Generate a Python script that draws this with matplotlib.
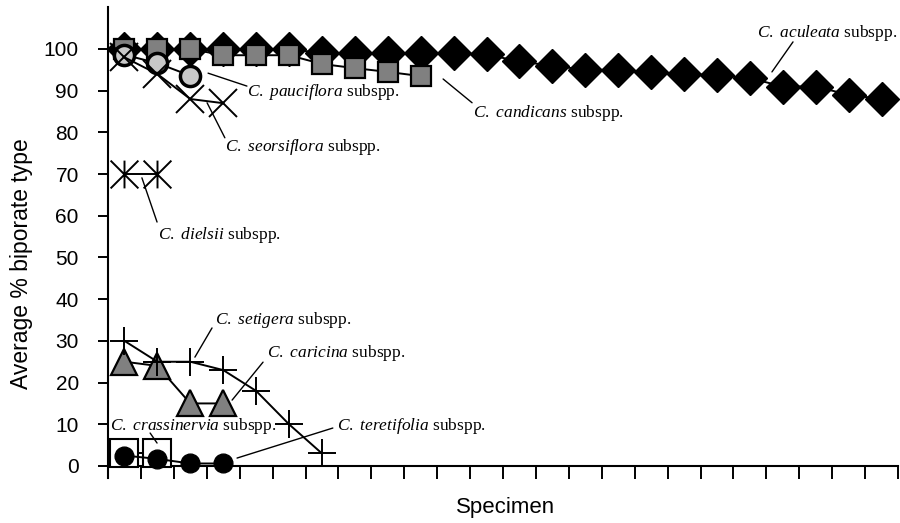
import matplotlib
matplotlib.use('Agg')
import numpy as np
import matplotlib.pyplot as plt
from matplotlib.path import Path

plt.rcParams['font.family'] = 'Liberation Sans'
plt.rcParams['mathtext.fontset'] = 'custom'
plt.rcParams['mathtext.it'] = 'Liberation Serif:italic'
plt.rcParams['mathtext.rm'] = 'Liberation Serif'

# average % biporate type per specimen
aculeata = [100, 100, 100, 100, 100, 100, 99, 99, 99, 99, 99, 98.7,
            97, 96, 95, 95, 94.5, 94, 93.7, 93, 91, 91, 89, 88]
candicans = [100, 100, 100, 98.5, 98.5, 98.5, 96.4, 95.4, 94.5, 93.5]
pauciflora = [98.6, 96.6, 93.6]
seorsiflora = [98, 94, 88, 87]
dielsii = [70, 70]
caricina = [25, 24, 15, 15]
setigera = [30, 25, 25, 23, 18, 10, 3]
crassinervia = [3, 3]
teretifolia = [2.5, 1.7, 0.6, 0.6]

n_specimens = 24
yticks = list(range(0, 101, 10))

# asterisk: vertical bar plus an x
asterisk = Path([(0, -1), (0, 1), (-1, -1), (1, 1), (-1, 1), (1, -1)],
                [Path.MOVETO, Path.LINETO, Path.MOVETO, Path.LINETO,
                 Path.MOVETO, Path.LINETO])

series = [
    (aculeata, dict(marker='D', ms=17, mfc='k', mec='k', mew=1)),
    (candicans, dict(marker='s', ms=15, mfc='#808080', mec='k', mew=1.6)),
    (pauciflora, dict(marker='o', ms=14.5, mfc='#c8c8c8', mec='k', mew=2.5)),
    (seorsiflora, dict(marker='x', ms=20, mec='k', mew=1.4)),
    (dielsii, dict(marker=asterisk, ms=20, mec='k', mew=1.4)),
    (caricina, dict(marker='^', ms=18.5, mfc='#808080', mec='k', mew=1.6)),
    (setigera, dict(marker='+', ms=20, mec='k', mew=1.4)),
    (crassinervia, dict(marker='s', ms=19.5, mfc='white', mec='k', mew=1.5)),
    (teretifolia, dict(marker='o', ms=13.5, mfc='k', mec='k', mew=1)),
]

fig = plt.figure(figsize=(9, 5.23), dpi=100)
ax = fig.add_axes([0.12, 0.0851, 0.8778, 0.901])

for z, (vals, style) in enumerate(series):
    x = np.arange(len(vals)) + 0.5
    ax.plot(x, vals, color='k', lw=1.4, ls='-', clip_on=False, zorder=3 + z, **style)

# labels: (text, text pos, leader start, leader end)
labels = [
    ('aculeata', (19.71, 103.8), (20.81, 101.7), (20.17, 94.5)),
    ('candicans', (11.09, 84.7), (11.06, 87.1), (10.18, 92.8)),
    ('pauciflora', (4.22, 89.7), (4.22, 91.1), (3.04, 94.2)),
    ('seorsiflora', (3.55, 76.5), (3.55, 78.7), (3.01, 87.1)),
    ('dielsii', (1.52, 55.4), (1.49, 58.5), (1.03, 69.1)),
    ('setigera', (3.25, 35.0), (3.16, 33.1), (2.64, 26.1)),
    ('caricina', (4.83, 27.1), (4.71, 24.9), (3.77, 15.8)),
    ('crassinervia', (0.06, 9.6), (1.28, 7.9), (1.49, 5.5)),
    ('teretifolia', (6.96, 9.6), (6.83, 9.1), (3.92, 1.9)),
]
for name, tpos, p0, p1 in labels:
    ax.text(tpos[0], tpos[1], r'$C.\ %s$ subspp.' % name, family='Liberation Serif',
            fontsize=12.5, ha='left', va='center', zorder=20)
    ax.annotate('', xy=p1, xytext=p0, zorder=20,
                arrowprops=dict(arrowstyle='-', color='k', lw=1.0, shrinkA=0, shrinkB=0))

ax.set_xlim(0, n_specimens)
ax.set_ylim(-3, 110)
ax.set_xticks(range(n_specimens + 1))
ax.set_xticklabels([])
ax.set_yticks(yticks)
ax.spines['top'].set_visible(False)
ax.spines['right'].set_visible(False)
ax.spines['bottom'].set_position(('data', 0))
ax.spines['left'].set_linewidth(1.5)
ax.spines['bottom'].set_linewidth(1.5)
ax.tick_params(axis='x', direction='out', length=9, width=1.4)
ax.tick_params(axis='y', direction='out', length=7, width=1.4, labelsize=15, pad=14)

ax.set_ylabel('Average % biporate type', fontsize=16.5)
ax.yaxis.set_label_coords(-0.095, 0.455)
ax.set_xlabel('Specimen', fontsize=16)
ax.xaxis.set_label_coords(0.503, -0.039)

fig.savefig('out.png', dpi=100)
